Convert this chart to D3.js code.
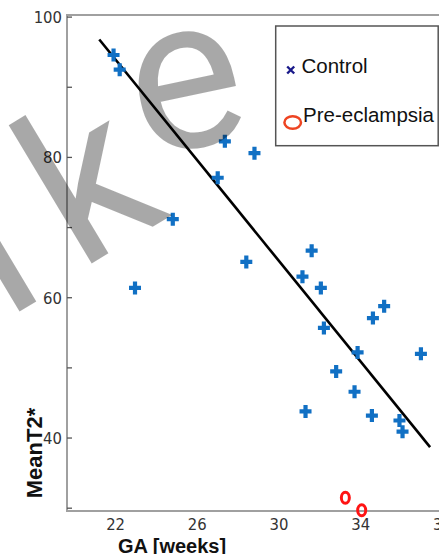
<!DOCTYPE html>
<html>
<head>
<meta charset="utf-8">
<script src="https://cdnjs.cloudflare.com/ajax/libs/d3/7.8.5/d3.min.js"></script>
<style>
	html, body { margin: 0; padding: 0; background: #fff; }
	svg { display: block; }
	.tick-label { font-family: "Liberation Sans Narrow", "Arial Narrow", "DejaVu Sans Condensed", sans-serif; font-size: 16.5px; fill: #333; }
	.axis-title { font-family: "Liberation Sans", Arial, sans-serif; font-weight: bold; fill: #111; }
	.legend-text { font-family: "Liberation Sans", Arial, sans-serif; font-size: 20.5px; fill: #111; }
	.mark { font-family: Roboto, "Liberation Sans", sans-serif; font-size: 215px; }
</style>
</head>
<body>
<div id="chart"></div>
<script>
// control group (GA in weeks, mean T2*)
var controlGA = [21.9, 22.2, 27.35, 28.8, 27.0, 24.8, 28.4, 22.95, 31.6, 31.15, 32.05, 32.2, 35.15, 34.6, 33.85, 36.95, 32.8, 33.7, 31.3, 34.55, 35.9, 36.05];
var controlT2 = [94.6, 92.5, 82.3, 80.6, 77.1, 71.2, 65.1, 61.4, 66.7, 63.0, 61.4, 55.7, 58.8, 57.1, 52.2, 52.0, 49.5, 46.6, 43.8, 43.2, 42.5, 40.9];

// pre-eclampsia group
var peGA = [33.25, 34.05];
var peT2 = [31.5, 29.7];

// regression line end points
var fitGA = [21.2, 37.4];
var fitT2 = [96.8, 38.7];

var xTicks = [22, 26, 30, 34, 38];
var yTicks = [30, 40, 50, 60, 70, 80, 90, 100];
var yLabels = [40, 60, 80, 100];

// watermark letters
var markLetters = ["n", "k", "e"];

var width = 439, height = 554;

var svg = d3.select("#chart").append("svg")
	.attr("width", width)
	.attr("height", height);

var x = d3.scaleLinear().domain([19.62, 40]).range([67, 483.2]);
var y = d3.scaleLinear().domain([29.6, 100.3]).range([511, 15]);

// frame: left and top lines, bottom axis
svg.append("path")
	.attr("d", "M" + x.range()[1] + "," + y(100.3) + "H" + x(19.62) + "V" + y(29.6) + "H" + x.range()[1])
	.attr("fill", "none")
	.attr("stroke", "#a0a0a0")
	.attr("stroke-width", 2);

// y ticks point inward
svg.selectAll("line.ytick")
	.data(yTicks)
	.enter()
	.append("line")
	.classed("ytick", true)
	.attr("x1", x(19.62))
	.attr("x2", x(19.62) + 5)
	.attr("y1", function(d){ return y(d); })
	.attr("y2", function(d){ return y(d); })
	.attr("stroke", "#555")
	.attr("stroke-width", 1.3);

svg.selectAll("text.ylabel")
	.data(yLabels)
	.enter()
	.append("text")
	.classed("tick-label", true)
	.attr("x", 62)
	.attr("y", function(d){ return y(d); })
	.attr("dy", "0.35em")
	.attr("text-anchor", "end")
	.text(function(d){ return d; });

svg.selectAll("text.xlabel")
	.data(xTicks)
	.enter()
	.append("text")
	.classed("tick-label", true)
	.attr("x", function(d){ return x(d); })
	.attr("y", 530)
	.attr("text-anchor", "middle")
	.text(function(d){ return d; });

svg.append("text")
	.classed("axis-title", true)
	.attr("x", 172)
	.attr("y", 553)
	.attr("text-anchor", "middle")
	.style("font-size", "20px")
	.text("GA [weeks]");

svg.append("text")
	.classed("axis-title", true)
	.attr("transform", "translate(41.5,453) rotate(-90)")
	.attr("text-anchor", "middle")
	.style("font-size", "22px")
	.text("MeanT2*");

// regression line
svg.append("line")
	.attr("x1", x(fitGA[0]))
	.attr("y1", y(fitT2[0]))
	.attr("x2", x(fitGA[1]))
	.attr("y2", y(fitT2[1]))
	.attr("stroke", "#000")
	.attr("stroke-width", 2.6);

// control markers
svg.selectAll("path.control")
	.data(controlGA)
	.enter()
	.append("path")
	.classed("control", true)
	.attr("transform", function(d, i){
		return "translate(" + x(d) + "," + y(controlT2[i]) + ")";
	})
	.attr("d", "M-6,0H6M0,-6.5V6.5")
	.attr("stroke", "#1170c4")
	.attr("stroke-width", 4.2)
	.attr("fill", "none");

// pre-eclampsia markers
svg.selectAll("ellipse.pe")
	.data(peGA)
	.enter()
	.append("ellipse")
	.classed("pe", true)
	.attr("cx", function(d){ return x(d); })
	.attr("cy", function(d, i){ return y(peT2[i]); })
	.attr("rx", 4)
	.attr("ry", 5.5)
	.attr("fill", "none")
	.attr("stroke", "#ff1414")
	.attr("stroke-width", 3);

// legend
var legend = svg.append("g");
legend.append("rect")
	.attr("x", 275.7)
	.attr("y", 26)
	.attr("width", 162.5)
	.attr("height", 119.7)
	.attr("fill", "#fff")
	.attr("stroke", "#555")
	.attr("stroke-width", 1.5);
legend.append("path")
	.attr("d", "M287.2,66.5L294.2,73.5M294.2,66.5L287.2,73.5")
	.attr("stroke", "#1a1a8a")
	.attr("stroke-width", 2.4);
legend.append("text")
	.classed("legend-text", true)
	.attr("x", 301.5)
	.attr("y", 73)
	.text("Control");
legend.append("ellipse")
	.attr("cx", 292.7)
	.attr("cy", 122.5)
	.attr("rx", 8.3)
	.attr("ry", 6.3)
	.attr("fill", "none")
	.attr("stroke", "#ee4422")
	.attr("stroke-width", 2.5);
legend.append("text")
	.classed("legend-text", true)
	.attr("x", 303)
	.attr("y", 122)
	.text("Pre-eclampsia");

// watermark, each letter placed on its own
var markPlace = {
	n: "translate(-53,355) rotate(-31)",
	k: "translate(79,271) rotate(-31)",
	e: "translate(185,92) rotate(-12) translate(-55,56)"
};
svg.selectAll("text.mark")
	.data(markLetters)
	.enter()
	.append("text")
	.classed("mark", true)
	.attr("transform", function(d){ return markPlace[d]; })
	.attr("fill", "#000")
	.attr("fill-opacity", 0.34)
	.text(function(d){ return d; });
</script>
</body>
</html>
